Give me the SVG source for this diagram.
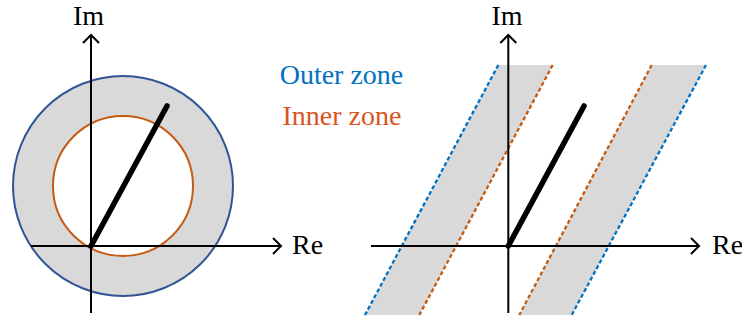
<svg xmlns="http://www.w3.org/2000/svg" width="742" height="323" viewBox="0 0 742 323">
<style>
.t{font-family:'Liberation Serif',serif;font-size:28px}
.ax{stroke:#000;stroke-width:2;fill:none}
.vec{stroke:#000;stroke-width:5.5;stroke-linecap:round;fill:none}
.band{fill:#D9D9D9;stroke:none}
.dblue{stroke:#0070C0;stroke-width:2.3;stroke-dasharray:4 2.5;fill:none}
.dor{stroke:#C55A11;stroke-width:2.3;stroke-dasharray:4 2.5;fill:none}
</style>
<defs>
<marker id="arr" viewBox="-10 -10 12 20" markerWidth="12" markerHeight="20" refX="0" refY="0" orient="auto" markerUnits="userSpaceOnUse">
<path d="M-8,-8 L0,0 L-8,8" fill="none" stroke="#000" stroke-width="2"/>
</marker>
</defs>
<g id="left-zones">
<circle cx="123" cy="186" r="110" fill="#D9D9D9" stroke="#2F5597" stroke-width="2"/>
<circle cx="123" cy="186" r="70" fill="#FFFFFF" stroke="#C55A11" stroke-width="2"/>
</g>
<g id="right-zones">
<polygon class="band" points="498.3,65 552.7,65 419.3,315 365,315"/>
<polygon class="band" points="651.7,65 706,65 571.7,315 519.3,315"/>
<line class="dblue" x1="498.3" y1="65" x2="365" y2="315"/>
<line class="dor" x1="552.7" y1="65" x2="419.3" y2="315"/>
<line class="dor" x1="651.7" y1="65" x2="519.3" y2="315"/>
<line class="dblue" x1="706" y1="65" x2="571.7" y2="315"/>
</g>
<g id="connectors">
<line class="ax" x1="31" y1="246" x2="281" y2="246" marker-end="url(#arr)"/>
<line class="ax" x1="91" y1="313" x2="91" y2="35" marker-end="url(#arr)"/>
<line class="ax" x1="371" y1="246" x2="699" y2="246" marker-end="url(#arr)"/>
<line class="ax" x1="508.3" y1="313" x2="508.3" y2="35" marker-end="url(#arr)"/>
<line class="vec" x1="91" y1="246" x2="167" y2="106"/>
<line class="vec" x1="508.3" y1="246" x2="584" y2="106"/>
</g>
<g id="labels">
<text class="t" x="88.5" y="25" text-anchor="middle">Im</text>
<text class="t" x="507" y="25" text-anchor="middle">Im</text>
<text class="t" x="292" y="254">Re</text>
<text class="t" x="712" y="254">Re</text>
<text class="t" x="341.5" y="84" text-anchor="middle" fill="#0070C0">Outer zone</text>
<text class="t" x="342" y="125" text-anchor="middle" fill="#D9541E">Inner zone</text>
</g>
</svg>
